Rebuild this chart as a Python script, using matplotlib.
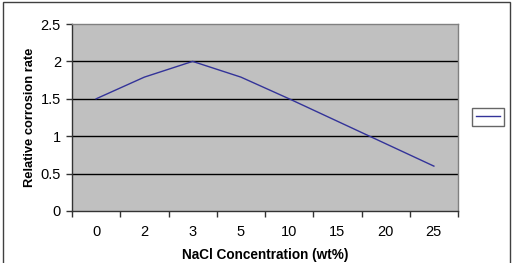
import matplotlib
matplotlib.use('Agg')
import matplotlib.pyplot as plt
from matplotlib.lines import Line2D
from matplotlib.patches import Rectangle

plt.rcParams['font.family'] = ['Liberation Sans', 'DejaVu Sans']

# Data
concentrations = ['0', '2', '3', '5', '10', '15', '20', '25']
corrosion_rate = [1.5, 1.79, 2.0, 1.79, 1.5, 1.2, 0.9, 0.6]
y_ticks = [0, 0.5, 1, 1.5, 2, 2.5]
y_tick_labels = ['0', '0.5', '1', '1.5', '2', '2.5']

fig = plt.figure(figsize=(5.13, 2.63), dpi=100)
ax = fig.add_axes([72 / 513, 1 - 211 / 263, (458 - 72) / 513, (211 - 24) / 263])
ax.set_facecolor('#c0c0c0')

x = list(range(len(concentrations)))
ax.plot(x, corrosion_rate, color='#333399', lw=1.0, zorder=3)

# y axis
ax.set_ylim(0, 2.5)
ax.set_yticks(y_ticks)
ax.set_yticklabels(y_tick_labels)
for yv in y_ticks[1:-1]:
    ax.axhline(yv, color='black', lw=1.0, zorder=2)

# categorical x axis: ticks between categories, labels at centers
ax.set_xlim(-0.5, len(x) - 0.5)
ax.set_xticks([i - 0.5 for i in range(len(x) + 1)])
ax.set_xticklabels([])
ax.set_xticks(x, minor=True)
ax.set_xticklabels(concentrations, minor=True)
ax.tick_params(axis='x', which='minor', length=0, pad=10, labelsize=10.5)
ax.tick_params(axis='x', which='major', length=4, width=1, color='#333333')
ax.tick_params(axis='y', length=4, width=1, color='#333333', labelsize=10.5, pad=4)

for side in ['top', 'right']:
    ax.spines[side].set_color('#808080')
    ax.spines[side].set_linewidth(1)
for side in ['left', 'bottom']:
    ax.spines[side].set_color('#333333')
    ax.spines[side].set_linewidth(1)

ax.set_xlabel('NaCl Concentration (wt%)', fontweight='bold', fontsize=9.8, labelpad=6.5)
ax.set_ylabel('Relative corrosion rate', fontweight='bold', fontsize=9.3, labelpad=3.5)

# legend with no text, just the series line
handle = Line2D([], [], color='#333399', lw=1.0)
fig.legend(handles=[handle], labels=[''], loc='center',
           bbox_to_anchor=(488 / 513, 1 - 117 / 263), frameon=True,
           fancybox=False, edgecolor='#404040', handlelength=2.2,
           borderpad=0.35, handletextpad=0, fontsize=8).get_frame().set_linewidth(1)

# outer chart border
fig.patches.append(Rectangle((3 / 513, -0.05), 507 / 513, 1.05 - 2 / 263,
                             transform=fig.transFigure, fill=False,
                             edgecolor='#404040', lw=1))

fig.savefig('out.png', dpi=100)
